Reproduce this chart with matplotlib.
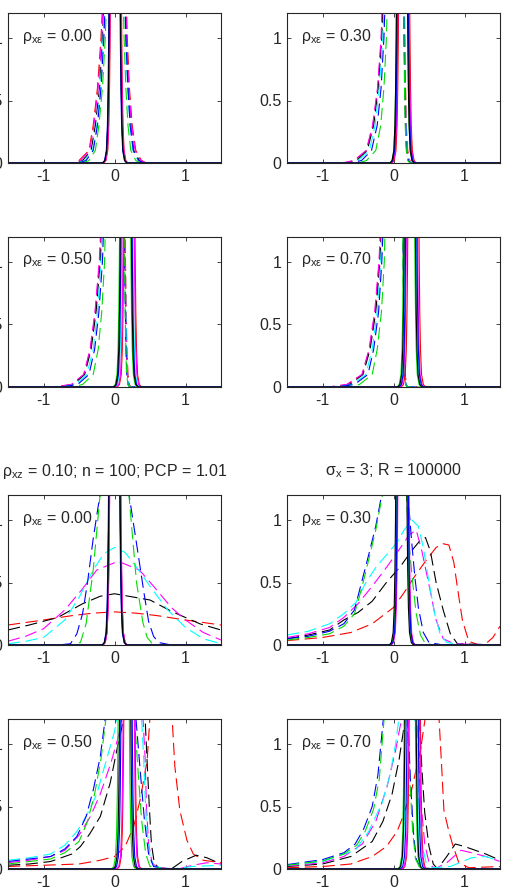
import numpy as np
import matplotlib.pyplot as plt

# ---- values ----
rho_xe = [0.00, 0.30, 0.50, 0.70]
title_left = ['ρ$_{xz}$ = 0.10; n = 1000; PCP = 10.10', 'ρ$_{xz}$ = 0.10; n = 100; PCP = 1.01']
title_right = ['σ$_x$ = 3; R = 100000', 'σ$_x$ = 3; R = 100000']

# strong-instrument panels: x where each dashed density crosses these heights
levels = [0, 0.02, 0.1, 0.3, 0.6, 1.0, 1.5]
# half-width of the solid (narrow) densities at the same heights
spike_half = [0.17, 0.14, 0.115, 0.1, 0.09, 0.082, 0.075]

s00_left = {'r': [-0.6, -0.5, -0.36, -0.3, -0.24, -0.19, -0.15],
            'm': [-0.58, -0.48, -0.35, -0.29, -0.23, -0.18, -0.145],
            'k': [-0.55, -0.45, -0.33, -0.27, -0.21, -0.17, -0.135],
            'c': [-0.52, -0.42, -0.31, -0.25, -0.2, -0.16, -0.125],
            'b': [-0.5, -0.4, -0.3, -0.24, -0.19, -0.15, -0.115],
            'g': [-0.45, -0.36, -0.27, -0.22, -0.17, -0.13, -0.1]}
s00_right = {'r': [0.45, 0.38, 0.3, 0.25, 0.21, 0.18, 0.16],
             'm': [0.44, 0.37, 0.29, 0.24, 0.2, 0.17, 0.15],
             'k': [0.42, 0.35, 0.27, 0.23, 0.19, 0.165, 0.145],
             'c': [0.4, 0.33, 0.26, 0.22, 0.185, 0.155, 0.135],
             'b': [0.41, 0.34, 0.265, 0.22, 0.19, 0.16, 0.14],
             'g': [0.36, 0.3, 0.23, 0.19, 0.16, 0.135, 0.115]}
s00_solid = {'r': 0.02, 'k': 0.005, 'm': 0.015, 'c': 0.01, 'b': 0.0, 'g': 0.005}

s30_left = {'r': [-0.7, -0.55, -0.38, -0.29, -0.22, -0.17, -0.14],
            'm': [-0.72, -0.56, -0.385, -0.295, -0.225, -0.175, -0.145],
            'k': [-0.66, -0.52, -0.37, -0.28, -0.215, -0.165, -0.135],
            'c': [-0.62, -0.5, -0.34, -0.26, -0.2, -0.15, -0.12],
            'b': [-0.6, -0.45, -0.31, -0.23, -0.175, -0.135, -0.105],
            'g': [-0.5, -0.38, -0.25, -0.18, -0.135, -0.1, -0.08]}
s30_right = {'r': [0.26, 0.23, 0.2, 0.18, 0.17, 0.16, 0.15],
             'm': [0.25, 0.22, 0.195, 0.175, 0.165, 0.155, 0.145],
             'k': [0.24, 0.21, 0.185, 0.17, 0.16, 0.15, 0.14],
             'c': [0.25, 0.22, 0.19, 0.175, 0.165, 0.155, 0.145],
             'b': [0.24, 0.21, 0.185, 0.17, 0.16, 0.15, 0.14],
             'g': [0.23, 0.2, 0.18, 0.165, 0.155, 0.148, 0.14]}
s30_solid = {'r': 0.15, 'k': 0.12, 'm': 0.14, 'c': 0.135, 'b': 0.13, 'g': 0.12}

s50_left = {'r': [-0.85, -0.6, -0.43, -0.34, -0.27, -0.21, -0.17],
            'm': [-0.87, -0.61, -0.435, -0.345, -0.275, -0.215, -0.175],
            'k': [-0.8, -0.58, -0.42, -0.33, -0.26, -0.2, -0.165],
            'c': [-0.75, -0.55, -0.39, -0.3, -0.24, -0.19, -0.155],
            'b': [-0.75, -0.52, -0.36, -0.28, -0.22, -0.17, -0.14],
            'g': [-0.6, -0.45, -0.3, -0.23, -0.18, -0.14, -0.12]}
s50_right = {'r': [0.23, 0.21, 0.19, 0.175, 0.165, 0.155, 0.15],
             'm': [0.22, 0.2, 0.18, 0.17, 0.16, 0.15, 0.145],
             'k': [0.22, 0.2, 0.18, 0.165, 0.155, 0.148, 0.14],
             'c': [0.22, 0.2, 0.185, 0.17, 0.16, 0.152, 0.145],
             'b': [0.21, 0.19, 0.175, 0.162, 0.153, 0.145, 0.14],
             'g': [0.21, 0.19, 0.17, 0.16, 0.15, 0.143, 0.138]}
s50_solid = {'r': 0.21, 'k': 0.16, 'm': 0.2, 'c': 0.18, 'b': 0.17, 'g': 0.15}

s70_left = {'r': [-0.9, -0.65, -0.44, -0.34, -0.26, -0.2, -0.16],
            'm': [-0.92, -0.66, -0.445, -0.345, -0.265, -0.205, -0.165],
            'k': [-0.85, -0.62, -0.43, -0.33, -0.25, -0.19, -0.155],
            'c': [-0.8, -0.58, -0.39, -0.3, -0.23, -0.18, -0.145],
            'b': [-0.8, -0.55, -0.36, -0.28, -0.21, -0.165, -0.13],
            'g': [-0.65, -0.48, -0.3, -0.23, -0.17, -0.13, -0.11]}
s70_right = {'r': [0.2, 0.18, 0.165, 0.155, 0.148, 0.142, 0.138],
             'm': [0.2, 0.18, 0.163, 0.153, 0.146, 0.14, 0.136],
             'k': [0.19, 0.175, 0.16, 0.15, 0.143, 0.138, 0.134],
             'c': [0.2, 0.18, 0.163, 0.153, 0.146, 0.14, 0.136],
             'b': [0.19, 0.175, 0.16, 0.15, 0.143, 0.138, 0.134],
             'g': [0.19, 0.17, 0.158, 0.148, 0.14, 0.135, 0.13]}
s70_solid = {'r': 0.28, 'k': 0.23, 'm': 0.26, 'c': 0.24, 'b': 0.25, 'g': 0.22}

# weak-instrument panels: dashed densities as (x, y) points
w00 = {'r': ([-1.5, -1.0, -0.6, -0.3, 0.0, 0.3, 0.6, 1.0, 1.5],
             [0.16, 0.2, 0.235, 0.255, 0.265, 0.255, 0.235, 0.2, 0.16]),
       'k': ([-1.5, -1.2, -0.8, -0.45, -0.2, 0.0, 0.2, 0.5, 0.8, 1.2, 1.5],
             [0.12, 0.16, 0.22, 0.33, 0.39, 0.41, 0.39, 0.36, 0.27, 0.17, 0.12]),
       'm': ([-1.5, -1.25, -1.0, -0.7, -0.45, -0.25, 0.05, 0.35, 0.55, 0.8, 1.0, 1.25, 1.5],
             [0.03, 0.07, 0.13, 0.28, 0.45, 0.6, 0.67, 0.6, 0.47, 0.3, 0.2, 0.1, 0.04]),
       'c': ([-1.5, -1.25, -1.0, -0.7, -0.5, -0.3, -0.15, 0.0, 0.15, 0.3, 0.5, 0.75, 1.0, 1.25, 1.5],
             [0.01, 0.03, 0.06, 0.2, 0.38, 0.6, 0.73, 0.78, 0.74, 0.63, 0.47, 0.28, 0.14, 0.05, 0.01]),
       'b': ([-1.5, -0.8, -0.62, -0.53, -0.45, -0.38, -0.3, -0.2, -0.1, 0.0, 0.1, 0.2, 0.3, 0.42, 0.48, 0.55, 0.62, 0.8, 1.5],
             [0, 0, 0.01, 0.09, 0.25, 0.5, 0.85, 1.22, 1.6, 1.7, 1.6, 1.22, 0.85, 0.4, 0.19, 0.07, 0.02, 0, 0]),
       'g': ([-1.5, -0.6, -0.48, -0.4, -0.3, -0.2, -0.1, 0.0, 0.1, 0.2, 0.31, 0.4, 0.46, 0.55, 1.5],
             [0, 0, 0.02, 0.17, 0.6, 1.22, 1.7, 1.8, 1.7, 1.22, 0.5, 0.18, 0.06, 0, 0])}
w00_solid = {'r': 0.01, 'k': 0.0, 'm': 0.01, 'c': 0.0, 'b': -0.005, 'g': 0.0}

w30 = {'r': ([-1.5, -1.0, -0.6, -0.3, 0.0, 0.15, 0.3, 0.45, 0.6, 0.7, 0.78, 0.85, 0.9, 0.97, 1.06, 1.2, 1.3, 1.4, 1.5],
             [0.035, 0.06, 0.1, 0.17, 0.3, 0.42, 0.55, 0.67, 0.78, 0.81, 0.8, 0.66, 0.46, 0.2, 0.03, 0.0, 0.01, 0.06, 0.15]),
       'k': ([-1.5, -1.2, -0.9, -0.7, -0.5, -0.3, -0.1, 0.1, 0.25, 0.38, 0.45, 0.52, 0.6, 0.7, 0.8, 0.9, 1.5],
             [0.05, 0.08, 0.12, 0.2, 0.26, 0.35, 0.5, 0.63, 0.75, 0.84, 0.86, 0.75, 0.5, 0.28, 0.09, 0.01, 0.0]),
       'm': ([-1.5, -1.2, -0.9, -0.7, -0.5, -0.3, -0.1, 0.1, 0.22, 0.32, 0.4, 0.5, 0.6, 0.7, 0.85, 1.5],
             [0.06, 0.09, 0.14, 0.22, 0.33, 0.47, 0.62, 0.78, 0.88, 0.92, 0.75, 0.48, 0.2, 0.05, 0.01, 0.0]),
       'c': ([-1.5, -1.2, -0.9, -0.7, -0.53, -0.39, -0.25, -0.1, 0.05, 0.15, 0.26, 0.35, 0.42, 0.5, 0.58, 0.66, 0.75, 1.0, 1.5],
             [0.08, 0.11, 0.17, 0.25, 0.34, 0.5, 0.62, 0.72, 0.82, 0.92, 1.0, 0.95, 0.78, 0.5, 0.25, 0.08, 0.02, 0.0, 0.0]),
       'b': ([-1.5, -1.2, -0.9, -0.7, -0.55, -0.45, -0.35, -0.25, -0.16, -0.05, 0.1, 0.2, 0.26, 0.3, 0.35, 0.42, 0.5, 0.7, 1.5],
             [0.05, 0.07, 0.11, 0.17, 0.28, 0.5, 0.72, 0.95, 1.22, 1.6, 1.6, 1.22, 0.8, 0.55, 0.3, 0.1, 0.02, 0.0, 0.0]),
       'g': ([-1.5, -1.2, -0.9, -0.7, -0.55, -0.45, -0.35, -0.25, -0.15, -0.05, 0.08, 0.18, 0.22, 0.27, 0.32, 0.38, 0.45, 0.6, 1.5],
             [0.04, 0.06, 0.09, 0.15, 0.25, 0.45, 0.68, 0.92, 1.22, 1.6, 1.6, 1.22, 0.8, 0.5, 0.25, 0.08, 0.01, 0.0, 0.0])}
w30_solid = {'r': 0.13, 'k': 0.11, 'm': 0.14, 'c': 0.13, 'b': 0.13, 'g': 0.12}

w50 = {'r': ([-1.5, -1.0, -0.5, -0.2, 0.0, 0.15, 0.27, 0.36, 0.46, 0.5, 0.55, 0.75, 0.81, 0.85, 0.92, 1.02, 1.11, 1.25, 1.5],
             [0.02, 0.03, 0.04, 0.07, 0.1, 0.18, 0.34, 0.55, 0.87, 1.22, 1.6, 1.6, 1.22, 0.82, 0.47, 0.23, 0.12, 0.07, 0.05]),
       'k': ([-1.5, -1.2, -0.9, -0.6, -0.48, -0.35, -0.2, -0.06, 0.05, 0.15, 0.3, 0.43, 0.46, 0.49, 0.52, 0.56, 0.62, 0.8, 0.95, 1.15, 1.3, 1.5],
             [0.03, 0.04, 0.06, 0.12, 0.18, 0.28, 0.42, 0.69, 1.0, 1.25, 1.6, 1.22, 0.85, 0.5, 0.2, 0.05, 0.01, 0.0, 0.06, 0.11, 0.09, 0.04]),
       'm': ([-1.5, -1.2, -0.9, -0.7, -0.5, -0.34, -0.2, -0.05, 0.05, 0.12, 0.3, 0.4, 0.43, 0.45, 0.48, 0.53, 0.6, 0.9, 1.1, 1.3, 1.5],
             [0.05, 0.07, 0.1, 0.15, 0.27, 0.42, 0.6, 0.85, 1.05, 1.25, 1.6, 1.22, 0.9, 0.5, 0.2, 0.05, 0.01, 0.0, 0.03, 0.05, 0.04]),
       'c': ([-1.5, -1.2, -0.9, -0.7, -0.53, -0.4, -0.25, -0.1, 0.0, 0.05, 0.25, 0.38, 0.41, 0.43, 0.45, 0.5, 0.56, 0.8, 1.1, 1.5],
             [0.07, 0.09, 0.12, 0.19, 0.3, 0.42, 0.6, 0.9, 1.1, 1.25, 1.6, 1.22, 0.9, 0.6, 0.35, 0.1, 0.02, 0.0, 0.02, 0.03]),
       'b': ([-1.5, -1.2, -0.9, -0.7, -0.53, -0.4, -0.3, -0.2, -0.12, 0.1, 0.3, 0.36, 0.42, 0.48, 0.55, 0.75, 1.5],
             [0.06, 0.08, 0.1, 0.16, 0.26, 0.42, 0.63, 0.9, 1.25, 1.6, 1.22, 0.8, 0.4, 0.12, 0.02, 0.0, 0.0]),
       'g': ([-1.5, -1.2, -0.9, -0.7, -0.5, -0.38, -0.28, -0.19, -0.11, 0.1, 0.28, 0.33, 0.38, 0.44, 0.5, 0.7, 1.5],
             [0.04, 0.06, 0.08, 0.13, 0.22, 0.38, 0.6, 0.88, 1.25, 1.6, 1.22, 0.8, 0.4, 0.12, 0.02, 0.0, 0.0])}
w50_solid = {'r': 0.21, 'k': 0.15, 'm': 0.2, 'c': 0.16, 'b': 0.17, 'g': 0.13}

w70 = {'r': ([-1.5, -1.0, -0.6, -0.3, -0.1, 0.05, 0.12, 0.25, 0.38, 0.45, 0.5, 0.6, 0.64, 0.68, 0.71, 0.78, 0.83, 0.92, 1.06, 1.5],
             [0.01, 0.02, 0.04, 0.1, 0.18, 0.3, 0.4, 0.62, 0.95, 1.22, 1.6, 1.6, 1.22, 0.8, 0.47, 0.3, 0.2, 0.05, 0.01, 0.02]),
       'k': ([-1.5, -1.0, -0.6, -0.3, -0.15, -0.02, 0.08, 0.17, 0.27, 0.36, 0.4, 0.44, 0.5, 0.56, 0.62, 0.75, 0.87, 1.0, 1.3, 1.5],
             [0.02, 0.04, 0.1, 0.22, 0.38, 0.6, 0.88, 1.22, 1.6, 1.22, 0.8, 0.45, 0.18, 0.04, 0.0, 0.1, 0.2, 0.18, 0.12, 0.07]),
       'm': ([-1.5, -1.0, -0.7, -0.44, -0.25, -0.09, 0.03, 0.12, 0.22, 0.33, 0.36, 0.4, 0.44, 0.5, 0.58, 0.75, 0.95, 1.1, 1.3, 1.5],
             [0.025, 0.05, 0.1, 0.2, 0.38, 0.66, 0.95, 1.22, 1.6, 1.22, 0.8, 0.45, 0.2, 0.05, 0.0, 0.05, 0.15, 0.13, 0.1, 0.06]),
       'c': ([-1.5, -1.0, -0.54, -0.35, -0.16, -0.05, 0.03, 0.08, 0.2, 0.3, 0.33, 0.36, 0.4, 0.46, 0.55, 0.8, 1.1, 1.3, 1.5],
             [0.03, 0.06, 0.15, 0.3, 0.53, 0.75, 1.0, 1.22, 1.6, 1.22, 0.8, 0.5, 0.2, 0.05, 0.01, 0.02, 0.09, 0.1, 0.06]),
       'b': ([-1.5, -1.0, -0.7, -0.54, -0.42, -0.3, -0.22, -0.14, 0.05, 0.2, 0.24, 0.28, 0.32, 0.38, 0.6, 1.5],
             [0.035, 0.075, 0.13, 0.2, 0.32, 0.5, 0.75, 1.22, 1.6, 1.22, 0.7, 0.3, 0.08, 0.01, 0.0, 0.0]),
       'g': ([-1.5, -1.0, -0.7, -0.52, -0.4, -0.28, -0.2, -0.13, 0.05, 0.19, 0.23, 0.27, 0.31, 0.37, 0.6, 1.5],
             [0.03, 0.065, 0.12, 0.19, 0.3, 0.48, 0.72, 1.22, 1.6, 1.22, 0.7, 0.3, 0.08, 0.01, 0.0, 0.0])}
w70_solid = {'r': 0.3, 'k': 0.24, 'm': 0.29, 'c': 0.25, 'b': 0.27, 'g': 0.23}

# ---- style ----
plt.rcParams['font.family'] = ['Liberation Sans', 'DejaVu Sans']
plt.rcParams['mathtext.fontset'] = 'custom'
plt.rcParams['mathtext.rm'] = 'Liberation Sans'
plt.rcParams['mathtext.it'] = 'Liberation Sans'

colors = {'r': '#ff0000', 'k': '#000000', 'm': '#ff00ff',
          'c': '#00ffff', 'b': '#0000ff', 'g': '#00dd00'}
order = ['r', 'k', 'm', 'c', 'b', 'g']
solid_order = ['c', 'r', 'm', 'g', 'b', 'k']   # dark ones end up on top
LW = 0.8
DASH = (11, 5)
TXT = '#262626'


def flank_curve(left, right):
    # one curve from its left/right crossing positions at each level
    xs = [-1.5] + list(left) + list(right)[::-1] + [1.5]
    ys = [0] + levels + levels[::-1] + [0]
    return xs, ys


def spike_curve(center):
    left = [center - h for h in spike_half]
    right = [center + h for h in spike_half]
    return flank_curve(left, right)


def draw_solids(ax, centers):
    for c in solid_order:
        xs, ys = spike_curve(centers[c])
        ax.plot(xs, ys, color=colors[c], lw=LW)


def style_axes(ax, rho):
    ax.set_xlim(-1.5, 1.5)
    ax.set_ylim(0, 1.2)
    ax.set_xticks([-1, 0, 1])
    ax.set_xticklabels(['-1', '0', '1'])
    ax.set_yticks([0, 0.5, 1])
    ax.set_yticklabels(['0', '0.5', '1'])
    ax.tick_params(direction='in', length=3, width=0.6, top=True, right=True,
                   labelsize=11.5, pad=4, colors=TXT)
    for sp in ax.spines.values():
        sp.set_linewidth(0.8)
        sp.set_color(TXT)
    ax.text(-1.3, 0.98, 'ρ$_{x\\varepsilon}$ = %.2f' % rho, fontsize=11.5,
            color=TXT, va='baseline')


fig = plt.figure(figsize=(5.07, 8.92), dpi=100)
W, H = 507.0, 892.0
col_left = [8, 287]
row_top = [13, 237, 495, 719]
aw, ah = 213, 150

strong = [(s00_left, s00_right, s00_solid), (s30_left, s30_right, s30_solid),
          (s50_left, s50_right, s50_solid), (s70_left, s70_right, s70_solid)]
weak = [(w00, w00_solid), (w30, w30_solid), (w50, w50_solid), (w70, w70_solid)]

for i in range(8):
    block, k = divmod(i, 4)
    r = block * 2 + k // 2
    col = k % 2
    ax = fig.add_axes([col_left[col] / W, 1 - (row_top[r] + ah) / H, aw / W, ah / H])
    if block == 0:
        left, right, solid = strong[k]
        for c in order:
            xs, ys = flank_curve(left[c], right[c])
            ax.plot(xs, ys, color=colors[c], lw=LW, ls=(0, DASH))
    else:
        dens, solid = weak[k]
        for c in order:
            xs, ys = dens[c]
            ax.plot(xs, ys, color=colors[c], lw=LW, ls=(0, DASH))
    draw_solids(ax, solid)
    style_axes(ax, rho_xe[k])
    if k < 2:
        t = title_left[block] if col == 0 else title_right[block]
        ax.set_title(t, fontsize=11.5, pad=14, color=TXT)

fig.savefig('out.png', dpi=100)
